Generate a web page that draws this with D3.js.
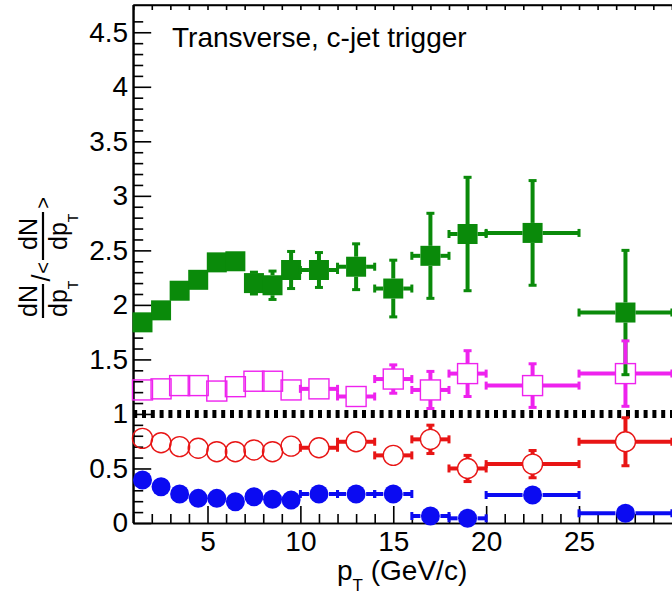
<!DOCTYPE html>
<html>
<head>
<meta charset="utf-8">
<script src="https://cdn.jsdelivr.net/npm/d3@7"></script>
<style>
body { margin: 0; background: #fff; }
text { font-family: "Liberation Sans", Arial, Helvetica, sans-serif; fill: #000; }
</style>
</head>
<body>
<div id="main"></div>
<script>
// bins in pT (GeV/c)
var binEdges = [1, 2, 3, 4, 5, 6, 7, 8, 9, 10, 12, 14, 16, 18, 20, 25, 30];

// series values
var greenVals = [1.84, 1.95, 2.13, 2.23, 2.39, 2.40, 2.20, 2.18, 2.32, 2.32, 2.35, 2.15, 2.45, 2.65, 2.66, 1.93];
var greenErrs = [0.03, 0.03, 0.04, 0.04, 0.05, 0.05, 0.10, 0.13, 0.17, 0.16, 0.21, 0.26, 0.39, 0.52, 0.48, 0.57];
var magentaVals = [1.22, 1.23, 1.26, 1.26, 1.21, 1.25, 1.30, 1.30, 1.22, 1.23, 1.16, 1.32, 1.22, 1.37, 1.26, 1.37];
var magentaErrs = [0.04, 0.04, 0.04, 0.04, 0.04, 0.05, 0.05, 0.05, 0.06, 0.06, 0.08, 0.13, 0.17, 0.21, 0.20, 0.30];
var redVals = [0.776, 0.736, 0.70, 0.685, 0.654, 0.654, 0.67, 0.654, 0.705, 0.69, 0.745, 0.62, 0.767, 0.50, 0.54, 0.745];
var redErrs = [0.03, 0.03, 0.03, 0.03, 0.03, 0.03, 0.04, 0.04, 0.04, 0.05, 0.06, 0.07, 0.13, 0.12, 0.125, 0.22];
var blueVals = [0.394, 0.333, 0.266, 0.226, 0.226, 0.195, 0.24, 0.217, 0.21, 0.266, 0.266, 0.266, 0.064, 0.043, 0.257, 0.089];
var blueErrs = [0.02, 0.02, 0.02, 0.02, 0.02, 0.02, 0.02, 0.02, 0.02, 0.02, 0.03, 0.04, 0.03, 0.03, 0.08, 0.05];

var xMajor = [5, 10, 15, 20, 25];
var yMajor = [0, 0.5, 1, 1.5, 2, 2.5, 3, 3.5, 4, 4.5];
var refLine = 1;
var title = "Transverse, c-jet trigger";

var ctx = {
    w: 672,
    h: 600,
    left: 133.2,
    right: 671.9,
    top: 5,
    bottom: 523,
    markHalf: 10,
    errWidth: 4
};

var svg = d3.select("#main").append("svg")
    .attr("width", ctx.w)
    .attr("height", ctx.h);

var x = d3.scaleLinear().domain([1, 30]).range([ctx.left, ctx.right]);
var y = d3.scaleLinear().domain([0, 4.75]).range([ctx.bottom, ctx.top]);

// frame
svg.append("line").attr("x1", ctx.left).attr("x2", ctx.w).attr("y1", ctx.top).attr("y2", ctx.top)
    .attr("stroke", "#000").attr("stroke-width", 1.6);
svg.append("line").attr("x1", ctx.left).attr("x2", ctx.left).attr("y1", ctx.top).attr("y2", ctx.bottom)
    .attr("stroke", "#000").attr("stroke-width", 1.6);

// y axis: major + minor ticks pointing inside
var yMinor = d3.range(0, 47).map(function(i) { return i / 10; })
    .filter(function(v) { return Math.round(v * 10) % 5 !== 0; });
svg.append("g").attr("transform", "translate(" + ctx.left + ",0)")
    .call(d3.axisLeft(y).tickValues(yMinor).tickSize(-10).tickSizeOuter(0).tickFormat(""));
svg.append("g").attr("transform", "translate(" + ctx.left + ",0)")
    .call(d3.axisLeft(y).tickValues(yMajor).tickSize(-18).tickSizeOuter(0).tickPadding(5)
        .tickFormat(function(d) { return String(d); }));

// x axis
var xMinor = d3.range(1, 31).filter(function(v) { return v % 5 !== 0; });
svg.append("g").attr("transform", "translate(0," + ctx.bottom + ")")
    .call(d3.axisBottom(x).tickValues(xMinor).tickSize(-9).tickSizeOuter(0).tickFormat(""));
svg.append("g").attr("transform", "translate(0," + ctx.bottom + ")")
    .call(d3.axisBottom(x).tickValues(xMajor).tickSize(-17).tickSizeOuter(0).tickPadding(8)
        .tickFormat(function(d) { return String(d); }));
// top ticks
svg.append("g").attr("transform", "translate(0," + ctx.top + ")")
    .call(d3.axisTop(x).tickValues(d3.range(1, 31)).tickSize(-5).tickSizeOuter(0).tickFormat(""));

svg.selectAll(".domain").attr("stroke", "#000").attr("stroke-width", 1.6);
svg.selectAll(".tick line").attr("stroke", "#000").attr("stroke-width", 1.6);
svg.selectAll(".tick text").attr("font-size", 28).attr("fill", "#000")
    .style("font-family", "'Liberation Sans', Arial, sans-serif");

// dotted reference line at 1
svg.append("line")
    .attr("x1", x(1)).attr("x2", ctx.w)
    .attr("y1", y(refLine)).attr("y2", y(refLine))
    .attr("stroke", "#000").attr("stroke-width", 8)
    .attr("stroke-dasharray", "4,4.8");

// one series: error bars (not inside marker) + marker
var drawSeries = function(vals, errs, color, shape, filled) {
    var g = svg.append("g");
    var h = ctx.markHalf;
    vals.forEach(function(v, i) {
        var lo = binEdges[i], hi = binEdges[i + 1];
        var cx = x((lo + hi) / 2), cy = y(v);
        var xl = x(lo), xr = x(hi);
        var yt = y(v + errs[i]), yb = y(v - errs[i]);
        var segs = [];
        if (xl < cx - h) segs.push([xl, cy, cx - h, cy], [xl, cy - 4, xl, cy + 4]);
        if (xr > cx + h) segs.push([cx + h, cy, xr, cy], [xr, cy - 4, xr, cy + 4]);
        if (yt < cy - h) segs.push([cx, yt, cx, cy - h], [cx - 4, yt, cx + 4, yt]);
        if (yb > cy + h) segs.push([cx, cy + h, cx, yb], [cx - 4, yb, cx + 4, yb]);
        segs.forEach(function(s, k) {
            g.append("line")
                .attr("x1", s[0]).attr("y1", s[1]).attr("x2", s[2]).attr("y2", s[3])
                .attr("stroke", color)
                .attr("stroke-width", k % 2 === 0 ? ctx.errWidth : 3);
        });
        if (shape === "square") {
            g.append("rect")
                .attr("x", cx - h).attr("y", cy - h)
                .attr("width", 2 * h).attr("height", 2 * h)
                .attr("fill", filled ? color : "none")
                .attr("stroke", color).attr("stroke-width", filled ? 0 : 1.4);
        } else {
            g.append("circle")
                .attr("cx", cx).attr("cy", cy)
                .attr("r", filled ? h - 0.5 : h)
                .attr("fill", filled ? color : "none")
                .attr("stroke", color).attr("stroke-width", filled ? 0 : 1.4);
        }
    });
};

drawSeries(greenVals, greenErrs, "#0a8a0a", "square", true);
drawSeries(magentaVals, magentaErrs, "#ee22ee", "square", false);
drawSeries(redVals, redErrs, "#e81515", "circle", false);
drawSeries(blueVals, blueErrs, "#0b0bf2", "circle", true);

// title
svg.append("text").attr("x", 172).attr("y", 47).attr("font-size", 28).text(title);

// x title p_T (GeV/c)
var xt = svg.append("text").attr("x", 337).attr("y", 580).attr("font-size", 28);
xt.append("tspan").text("p");
xt.append("tspan").attr("font-size", 17).attr("dy", 11).text("T");
xt.append("tspan").attr("dy", -11).text(" (GeV/c)");

// y title: dN/dp_T / <dN/dp_T>
var yt = svg.append("g").attr("transform", "translate(43,260) rotate(-90)");
var frac = function(x0, x1, numX, denX) {
    yt.append("line").attr("x1", x0).attr("x2", x1).attr("y1", 0).attr("y2", 0)
        .attr("stroke", "#000").attr("stroke-width", 2.2);
    yt.append("text").attr("x", numX).attr("y", -6).attr("font-size", 25)
        .attr("text-anchor", "middle").text("dN");
    var d = yt.append("text").attr("x", denX).attr("y", 24).attr("font-size", 25);
    d.append("tspan").text("dp");
    d.append("tspan").attr("font-size", 14).attr("dy", 11).text("T");
};
frac(-58, -24, -41, -57);
yt.append("text").attr("x", -18).attr("y", 7).attr("font-size", 25).attr("text-anchor", "middle").text("/");
yt.append("text").attr("x", -8).attr("y", 7).attr("font-size", 20).attr("text-anchor", "middle").text("<");
frac(0, 48, 26, 10);
yt.append("text").attr("x", 57).attr("y", 7).attr("font-size", 20).attr("text-anchor", "middle").text(">");
</script>
</body>
</html>
